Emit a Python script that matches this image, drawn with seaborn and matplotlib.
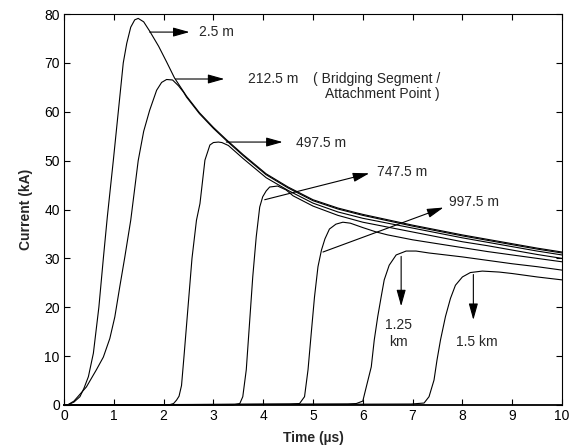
import numpy as np
import pandas as pd
import matplotlib
matplotlib.use("Agg")
import matplotlib.pyplot as plt
import seaborn as sns

# ---- data (time in us, current in kA) ----
labels = ["2.5 m", "212.5 m", "497.5 m", "747.5 m", "997.5 m", "1.25 km", "1.5 km"]

t_25 = [0, 0.07, 0.2, 0.32, 0.4, 0.49, 0.59, 0.7, 0.79, 0.87, 0.99, 1.09, 1.19, 1.26, 1.34, 1.42, 1.49,
        1.6, 1.72, 1.9, 2.06, 2.22, 2.46, 2.72, 3.0, 3.26, 3.6, 4.06, 4.5, 5.0, 5.5, 6.0, 6.5, 7.0, 7.5,
        8.0, 8.5, 9.0, 9.5, 10.0]
i_25 = [0, 0, 0.6, 1.7, 3.4, 5.8, 10.6, 20.0, 30.0, 38.5, 50.0, 60.0, 70.0, 74.0, 77.3, 78.8, 79.1,
        78.4, 76.5, 73.4, 70.2, 66.9, 63.2, 59.8, 56.8, 54.3, 51.2, 47.3, 44.6, 42.0, 40.3, 39.0, 37.9,
        36.8, 35.8, 34.8, 33.9, 33.0, 32.1, 31.3]

t_2125 = [0, 0.07, 0.2, 0.45, 0.65, 0.79, 0.92, 1.02, 1.12, 1.22, 1.34, 1.49, 1.6, 1.72, 1.86, 1.96,
          2.06, 2.18, 2.3, 2.4, 2.46, 2.72, 3.0, 3.26, 3.6, 4.06, 4.5, 5.0, 5.5, 6.0, 6.5, 7.0, 7.5,
          8.0, 8.5, 9.0, 9.5, 10.0]
i_2125 = [0, 0, 0.8, 3.7, 7.2, 9.8, 13.6, 18.0, 24.2, 30.2, 37.8, 50.0, 56.0, 60.3, 64.4, 66.0,
          66.6, 66.5, 65.3, 64.0, 63.0, 59.6, 56.6, 54.1, 51.0, 47.1, 44.4, 41.8, 40.1, 38.8, 37.7,
          36.6, 35.6, 34.6, 33.7, 32.8, 31.9, 31.1]

t_4975 = [0, 2.1, 2.2, 2.26, 2.31, 2.36, 2.41, 2.49, 2.57, 2.66, 2.73, 2.83, 2.93, 3.0, 3.1, 3.17,
          3.3, 3.6, 4.06, 4.5, 5.0, 5.5, 6.0, 6.5, 7.0, 7.5, 8.0, 8.5, 9.0, 9.5, 10.0]
i_4975 = [0, 0, 0.3, 1.0, 1.8, 4.0, 10.0, 20.0, 30.0, 37.8, 41.2, 50.1, 53.2, 53.7, 53.8, 53.7,
          53.1, 50.4, 46.5, 43.9, 41.3, 39.5, 38.2, 37.2, 36.2, 35.2, 34.2, 33.3, 32.4, 31.5, 30.7]

t_7475 = [0, 3.39, 3.53, 3.59, 3.66, 3.73, 3.79, 3.86, 3.93, 3.99, 4.06, 4.13, 4.29, 4.46, 4.6, 5.0,
          5.5, 6.0, 6.5, 7.0, 7.5, 8.0, 8.5, 9.0, 9.5, 10.0]
i_7475 = [0, 0, 0.3, 1.7, 7.2, 17.4, 26.2, 34.4, 40.5, 42.6, 43.8, 44.6, 44.8, 44.0, 42.8, 40.7,
          38.8, 37.4, 36.4, 35.4, 34.4, 33.4, 32.6, 31.7, 30.8, 30.0]

t_9975 = [0, 4.53, 4.73, 4.83, 4.9, 4.97, 5.03, 5.1, 5.17, 5.24, 5.33, 5.46, 5.6, 5.75, 6.0, 6.27,
          6.5, 7.0, 7.5, 8.0, 8.5, 9.0, 9.5, 10.0]
i_9975 = [0, 0.2, 0.3, 1.7, 7.2, 15.3, 22.1, 28.3, 31.7, 34.0, 36.0, 37.0, 37.4, 37.2, 36.3, 35.4,
          34.8, 33.8, 33.0, 32.2, 31.4, 30.7, 30.0, 29.3]

t_125k = [0, 5.7, 5.87, 6.0, 6.07, 6.17, 6.23, 6.3, 6.37, 6.43, 6.53, 6.67, 6.87, 7.07, 7.33, 7.5,
          8.0, 8.5, 9.0, 9.5, 10.0]
i_125k = [0, 0.2, 0.3, 0.8, 3.7, 7.8, 13.3, 18.1, 22.2, 25.6, 28.6, 30.7, 31.5, 31.5, 31.1, 30.9,
          30.3, 29.6, 28.9, 28.3, 27.6]

t_15k = [0, 6.97, 7.23, 7.33, 7.43, 7.49, 7.56, 7.66, 7.76, 7.86, 8.0, 8.16, 8.4, 8.74, 9.0, 9.5, 10.0]
i_15k = [0, 0.2, 0.4, 1.7, 5.1, 9.2, 13.3, 18.1, 21.8, 24.5, 26.2, 27.1, 27.4, 27.2, 26.9, 26.2, 25.6]

x_ticks = [0, 1, 2, 3, 4, 5, 6, 7, 8, 9, 10]
y_ticks = [0, 10, 20, 30, 40, 50, 60, 70, 80]

# annotation arrows: (text, text_xy, arrow_start, arrow_tip)
ann_text = ["2.5 m", "212.5 m", "497.5 m", "747.5 m", "997.5 m", "1.25\nkm", "1.5 km"]
ann_text_xy = [(2.72, 76.3), (3.69, 66.7), (4.66, 53.6), (6.28, 47.6), (7.74, 41.5), (6.71, 14.6), (7.88, 12.9)]
ann_start = [(1.72, 76.3), (2.24, 66.7), (3.26, 53.8), (4.03, 42.0), (5.2, 31.3), (6.77, 30.4), (8.22, 26.7)]
ann_tip = [(2.52, 76.3), (3.22, 66.7), (4.39, 53.8), (6.13, 47.4), (7.62, 40.4), (6.77, 20.2), (8.22, 17.4)]
note_lines = ["( Bridging Segment /", "Attachment Point )"]
note_xy = [(5.0, 66.7), (5.25, 63.6)]

# ---- build long table ----
series_t = [t_25, t_2125, t_4975, t_7475, t_9975, t_125k, t_15k]
series_i = [i_25, i_2125, i_4975, i_7475, i_9975, i_125k, i_15k]
frames = []
for lab, tt, ii in zip(labels, series_t, series_i):
    frames.append(pd.DataFrame({"t": tt, "I": ii, "curve": lab}))
df = pd.concat(frames, ignore_index=True)

sns.set_style("ticks")
plt.rcParams["font.family"] = ["Liberation Sans", "DejaVu Sans"]
plt.rcParams["font.size"] = 10

fig = plt.figure(figsize=(5.74, 4.48), dpi=100)
ax = fig.add_axes([64 / 574, 1 - 405 / 448, (562 - 64) / 574, (405 - 14) / 448])

sns.lineplot(data=df, x="t", y="I", units="curve", estimator=None, color="black",
             linewidth=0.8, sort=False, ax=ax, legend=False)
for ln in ax.lines:
    ln.set_clip_on(False)

ax.set_xlim(0, 10)
ax.set_ylim(0, 80)
ax.set_xticks(x_ticks)
ax.set_yticks(y_ticks)
ax.tick_params(direction="in", top=True, right=True, length=4, width=0.8,
               labelsize=10, colors="black", pad=3)
for s in ax.spines.values():
    s.set_color("black")
    s.set_linewidth(0.8)
ax.spines["bottom"].set_linewidth(1.3)

ax.set_xlabel("Time (µs)", fontweight="bold", fontsize=10)
ax.set_ylabel("Current (kA)", fontweight="bold", fontsize=10)
ax.xaxis.set_label_coords(0.5, -0.066)
ax.yaxis.set_label_coords(-0.062, 0.5)

for txt, txy, st, tp in zip(ann_text, ann_text_xy, ann_start, ann_tip):
    ax.annotate("", xy=tp, xytext=st,
                arrowprops=dict(arrowstyle="-|>,head_length=1.0,head_width=0.28",
                                color="black", lw=0.8, shrinkA=0, shrinkB=0,
                                mutation_scale=10))
    ha = "center" if "\n" in txt else "left"
    ax.text(txy[0], txy[1], txt, ha=ha, va="center", fontsize=10, linespacing=1.3)

for line, xy in zip(note_lines, note_xy):
    ax.text(xy[0], xy[1], line, ha="left", va="center", fontsize=10)

fig.savefig("out.png", dpi=100, facecolor="white")
